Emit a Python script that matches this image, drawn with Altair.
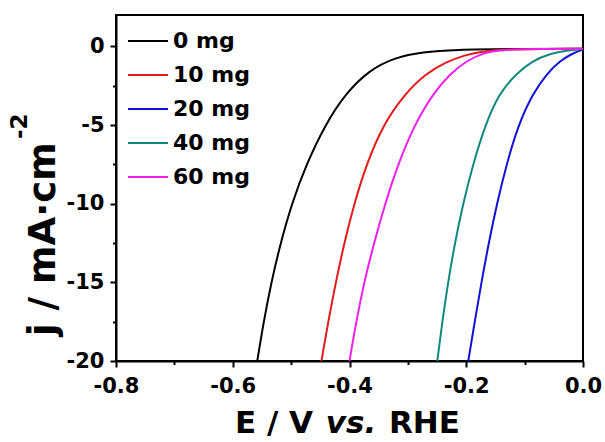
import altair as alt
import pandas as pd

# ---------------- data ----------------
samples = ["0 mg", "10 mg", "20 mg", "40 mg", "60 mg"]
colors = ["#000000", "#e31a1c", "#1010d8", "#12877f", "#ee20ee"]

E_0mg = [-0.558, -0.547, -0.534, -0.518, -0.499, -0.474, -0.442, -0.407, -0.366, -0.322, -0.275, -0.220, -0.120, 0.0]
j_0mg = [-20.0, -17.5, -15.0, -12.5, -10.0, -7.5, -5.0, -3.0, -1.5, -0.7, -0.35, -0.2, -0.16, -0.15]

E_10mg = [-0.448, -0.4365, -0.4235, -0.409, -0.392, -0.371, -0.343, -0.305, -0.270, -0.235, -0.203, -0.170, -0.130, -0.060, 0.0]
j_10mg = [-20.0, -17.5, -15.0, -12.5, -10.0, -7.5, -5.0, -3.0, -1.75, -1.0, -0.55, -0.3, -0.18, -0.15, -0.15]

E_20mg = [-0.1965, -0.1855, -0.1740, -0.1615, -0.1475, -0.1310, -0.1110, -0.0860, -0.0625, -0.0390, -0.0170, 0.0]
j_20mg = [-20.0, -17.5, -15.0, -12.5, -10.0, -7.5, -5.0, -3.0, -1.75, -0.9, -0.42, -0.2]

E_40mg = [-0.2496, -0.2410, -0.2312, -0.2195, -0.2055, -0.1885, -0.1675, -0.1440, -0.1150, -0.0860, -0.0565, -0.0279, 0.0]
j_40mg = [-20.0, -17.5, -15.0, -12.5, -10.0, -7.5, -5.0, -3.0, -1.75, -0.9, -0.46, -0.25, -0.16]

E_60mg = [-0.400, -0.3885, -0.375, -0.358, -0.339, -0.317, -0.289, -0.257, -0.228, -0.199, -0.170, -0.142, -0.080, 0.0]
j_60mg = [-20.0, -17.5, -15.0, -12.5, -10.0, -7.5, -5.0, -3.0, -1.75, -0.9, -0.4, -0.22, -0.16, -0.15]

x_tick_values = [-0.8, -0.7, -0.6, -0.5, -0.4, -0.3, -0.2, -0.1, 0.0]
y_tick_values = [-20, -17.5, -15, -12.5, -10, -7.5, -5, -2.5, 0]

x_title_parts = ["E / V", "vs.", "RHE"]
y_title_parts = ["j / mA·cm", "-2"]

# ---------------- build table ----------------
series = [(samples[0], E_0mg, j_0mg), (samples[1], E_10mg, j_10mg),
          (samples[2], E_20mg, j_20mg), (samples[3], E_40mg, j_40mg),
          (samples[4], E_60mg, j_60mg)]
rows = []
for name, es, js in series:
    for e, j in zip(es, js):
        rows.append({"E": e, "j": j, "sample": name})
df = pd.DataFrame(rows)

FONT = "DejaVu Sans"

x_axis = alt.Axis(
    values=x_tick_values,
    title=None,
    labelExpr="abs(round(datum.value*10)) % 2 == 0 ? replace(format(datum.value, '.1f'), '\u2212', '-') : ''",
    tickSize={"condition": {"test": "abs(round(datum.value*10)) % 2 == 0", "value": 6}, "value": 3.5},
    tickColor="black", tickWidth=2, domainColor="black", domainWidth=2,
    labelFont=FONT, labelFontWeight="bold", labelFontSize=21, labelColor="black",
    labelPadding=8, grid=False, labelFlush=False, labelOverlap=False,
)
y_axis = alt.Axis(
    values=y_tick_values,
    title=None,
    labelExpr="datum.value % 5 == 0 ? replace(format(datum.value, 'd'), '\u2212', '-') : ''",
    tickSize={"condition": {"test": "datum.value % 5 == 0", "value": 6}, "value": 3.5},
    tickColor="black", tickWidth=2, domainColor="black", domainWidth=2,
    labelFont=FONT, labelFontWeight="bold", labelFontSize=21, labelColor="black",
    labelPadding=6, grid=False, labelFlush=False, labelOverlap=False,
)

lines = alt.Chart(df).mark_line(strokeWidth=2, interpolate="basis").encode(
    x=alt.X("E:Q", scale=alt.Scale(domain=[-0.8, 0.0], nice=False, zero=False), axis=x_axis),
    y=alt.Y("j:Q", scale=alt.Scale(domain=[-20, 2], nice=False, zero=False), axis=y_axis),
    color=alt.Color(
        "sample:N",
        scale=alt.Scale(domain=samples, range=colors),
        sort=samples,
        legend=alt.Legend(
            title=None, orient="none", legendX=21, legendY=15, padding=0,
            symbolType="M-2,0H2", symbolSize=400, symbolStrokeWidth=2,
            labelFont=FONT, labelFontWeight="bold", labelFontSize=22, labelColor="black",
            labelOffset=14, rowPadding=12,
        ),
    ),
)

t_df = pd.DataFrame({"t": [0]})


def label(text, x, y, size, align, angle=0, style="normal"):
    return alt.Chart(t_df).mark_text(
        text=text, font=FONT, fontWeight="bold", fontStyle=style, fontSize=size,
        align=align, baseline="alphabetic", color="black", angle=angle,
    ).encode(x=alt.value(x), y=alt.value(y))


title_a = label(x_title_parts[0], 197, 418, 31, "right")
title_b = label(x_title_parts[1], 235, 418, 31, "center", style="italic")
title_c = label(x_title_parts[2], 273, 418, 31, "left")
ytitle_a = label(y_title_parts[0], -61, 321, 37, "left", angle=270)
ytitle_b = label(y_title_parts[1], -89, 124, 23, "left", angle=270)

chart = alt.layer(lines, title_a, title_b, title_c, ytitle_a, ytitle_b).properties(
    width=467, height=346,
    padding={"left": 116, "top": 15, "right": 22, "bottom": 81},
    autosize=alt.AutoSizeParams(type="none"),
    background="white",
).configure_view(stroke="black", strokeWidth=2)

chart.save("out.html", embed_options={"renderer": "svg", "actions": False})
